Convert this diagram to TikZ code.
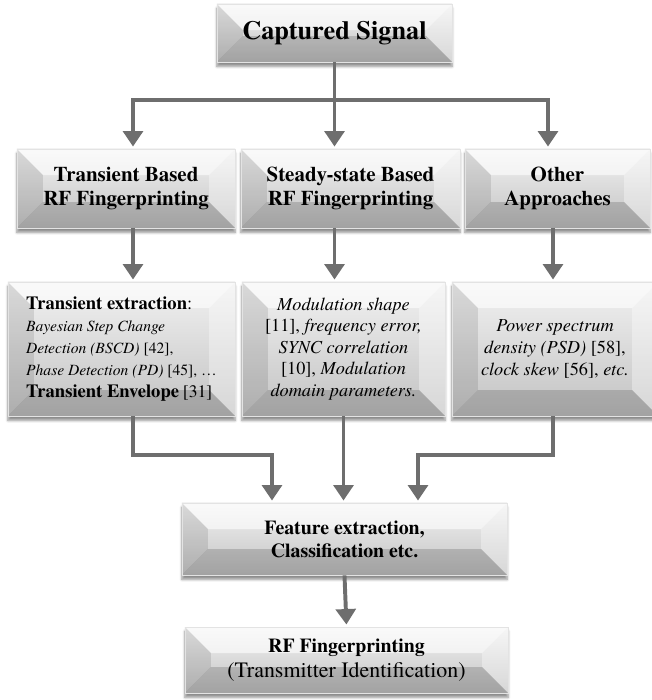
\documentclass[tikz,border=0pt]{standalone}
\usepackage{fontspec}
\setmainfont{texgyretermes}[Extension=.otf, UprightFont=*-regular, BoldFont=*-bold, ItalicFont=*-italic, BoldItalicFont=*-bolditalic]
\usetikzlibrary{arrows.meta}
\usetikzlibrary{shadows.blur}
\usepackage{xcolor}

\definecolor{arrgray}{HTML}{6E6E6E}
\newcommand\capfont{\fontsize{18.7}{22}\selectfont\bfseries}
\newcommand\rowfont{\fontsize{14.9}{16.6}\selectfont\bfseries}
\newcommand\bigbf[1]{{\fontsize{13.2}{15.6}\selectfont\bfseries #1}}

\tikzset{
  bevel depth/.store in=\bvd, bevel depth=0.65cm,
  bevel/.style={
    draw=gray!22, line width=0.5pt,
    top color=gray!10, bottom color=gray!48,
    blur shadow={shadow xshift=0pt, shadow yshift=-1.1mm, shadow blur steps=6, shadow opacity=45},
    align=center, inner sep=2pt,
    path picture={
      \coordinate (bvNW) at (path picture bounding box.north west);
      \coordinate (bvNE) at (path picture bounding box.north east);
      \coordinate (bvSW) at (path picture bounding box.south west);
      \coordinate (bvSE) at (path picture bounding box.south east);
      \fill[white, opacity=0.6] (bvNW) -- (bvNE) -- ([shift={(-\bvd,-\bvd)}]bvNE) -- ([shift={(\bvd,-\bvd)}]bvNW) -- cycle;
      \fill[black, opacity=0.10] (bvNW) -- ([shift={(\bvd,-\bvd)}]bvNW) -- ([shift={(\bvd,\bvd)}]bvSW) -- (bvSW) -- cycle;
      \fill[white, opacity=0.35] (bvNE) -- (bvSE) -- ([shift={(-\bvd,\bvd)}]bvSE) -- ([shift={(-\bvd,-\bvd)}]bvNE) -- cycle;
      \fill[black, opacity=0.16] (bvSW) -- ([shift={(\bvd,\bvd)}]bvSW) -- ([shift={(-\bvd,\bvd)}]bvSE) -- (bvSE) -- cycle;
    }
  },
  arr/.style={draw=arrgray, line width=2.8pt, shorten >=1.5pt,
    -{Triangle[width=14pt,length=11pt]}}
}

\begin{document}
\begin{tikzpicture}[x=0.025cm, y=-0.025cm]
  \useasboundingbox (0,0) rectangle (652,700);

  % top
  \node[bevel, minimum width=5.875cm, minimum height=1.45cm, font=\capfont] (cap) at (334.5,33) {Captured Signal};

  % approaches
  \node[bevel, minimum width=5.45cm, minimum height=1.975cm, font=\rowfont] (trA) at (126,188.5) {Transient Based\\RF Fingerprinting};
  \node[bevel, minimum width=5.475cm, minimum height=1.975cm, font=\rowfont] (trB) at (350.5,188.5) {Steady-state Based\\RF Fingerprinting};
  \node[bevel, minimum width=4.625cm, minimum height=1.975cm, font=\rowfont] (trC) at (557.5,188.5) {Other\\Approaches};

  % methods
  \node[bevel, minimum width=5.675cm, minimum height=3.35cm, align=left, font=\fontsize{11.1}{15.6}\selectfont] (exA) at (121.5,349)
    {\bigbf{Transient extraction}{\fontsize{13.2}{15.6}\selectfont:}\\
     \textit{Bayesian Step Change}\\
     \textit{Detection (BSCD)} [42],\\
     \textit{Phase Detection (PD)} [45], \dots\\
     \bigbf{Transient Envelope} {\fontsize{12.5}{15.6}\selectfont[31]}};
  \node[bevel, minimum width=5.075cm, minimum height=3.35cm, font=\fontsize{13}{15.3}\selectfont] (exB) at (343.5,349)
    {\textit{Modulation shape}\\
     {[11]}, \textit{frequency error,}\\
     \textit{SYNC correlation}\\
     {[10]}, \textit{Modulation}\\
     \textit{domain parameters.}};
  \node[bevel, minimum width=5.15cm, minimum height=3.35cm, font=\fontsize{13}{15.5}\selectfont] (exC) at (555,349)
    {\textit{Power spectrum}\\
     \textit{density (PSD)} [58],\\
     \textit{clock skew} [56], \textit{etc.}};

  % bottom
  \node[bevel, minimum width=8.125cm, minimum height=1.8cm, font=\fontsize{14.1}{16.4}\selectfont\bfseries] (feat) at (344.5,539) {Feature extraction,\\Classification etc.};
  \node[bevel, minimum width=8.075cm, minimum height=1.65cm, font=\fontsize{14.1}{17.8}\selectfont] (fin) at (346.5,660)
    {\textbf{RF Fingerprinting}\\{\fontsize{15.6}{17.8}\selectfont(Transmitter Identification)}};

  % connectors
  \coordinate (hubA) at (133,100);
  \coordinate (hubC) at (548,100);
  \coordinate (colC) at (553,0);
  \coordinate (joinA) at (272,455);
  \coordinate (joinC) at (418,455);

  \draw[arr] (cap.south) |- (hubA) -- (trA.north -| hubA);
  \draw[arr] (cap.south) |- (hubC) -- (trC.north -| hubC);
  \draw[arr] (cap.south) -- (trB.north -| cap.south);

  \draw[arr] (trA.south -| hubA) -- (exA.north -| hubA);
  \draw[arr] (trB.south -| cap.south) -- (exB.north -| cap.south);
  \draw[arr] (trC.south -| colC) -- (exC.north -| colC);

  \draw[arr] (exA.south -| hubA) |- (joinA) -- (feat.north -| joinA);
  \draw[arr] (exB.south) -- (feat.north -| exB.south);
  \draw[arr] (exC.south -| colC) |- (joinC) -- (feat.north -| joinC);

  \draw[arr] (feat.south) -- (fin.north);
\end{tikzpicture}
\end{document}
